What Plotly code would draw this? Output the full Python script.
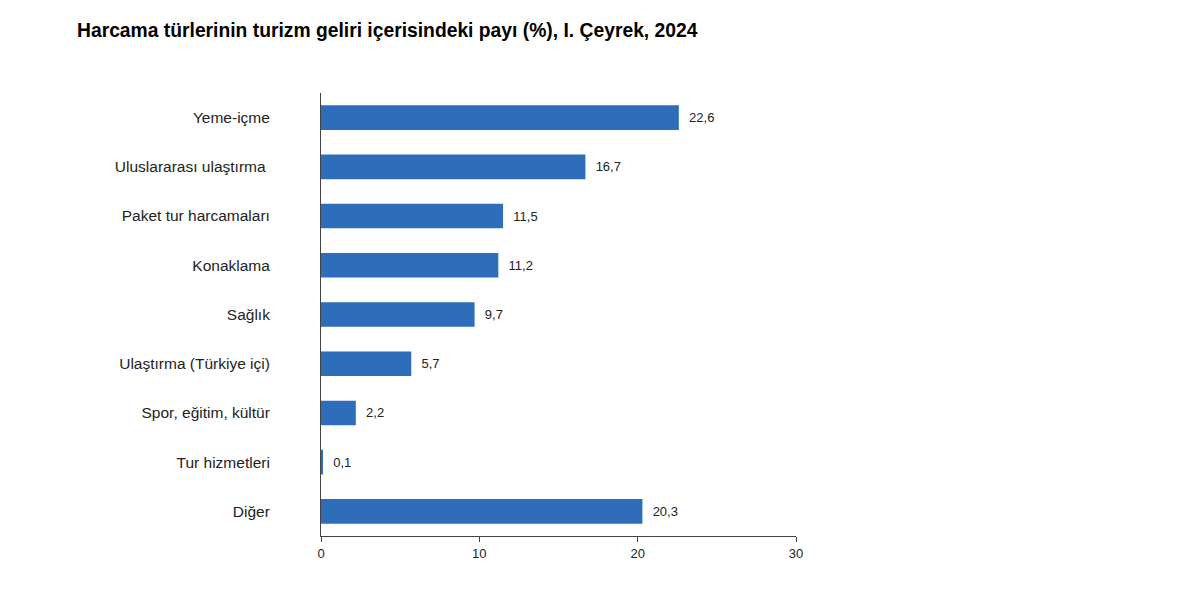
import plotly.graph_objects as go

categories = ["Yeme-içme", "Uluslararası ulaştırma ", "Paket tur harcamaları", "Konaklama",
              "Sağlık", "Ulaştırma (Türkiye içi)", "Spor, eğitim, kültür", "Tur hizmetleri", "Diğer"]
values = [22.6, 16.7, 11.5, 11.2, 9.7, 5.7, 2.2, 0.1, 20.3]
labels = [f"{v:.1f}".replace(".", ",") for v in values]
x_ticks = [0, 10, 20, 30]

fig = go.Figure(go.Bar(
    x=values, y=categories, orientation="h",
    marker=dict(color="#2e6db9", line=dict(width=0)),
    text=labels, texttemplate="\u00a0\u00a0%{text}", textposition="outside", cliponaxis=False,
    textfont=dict(family="Liberation Sans, Arial", size=13, color="#222"),
    width=0.5,
))

fig.update_layout(
    width=1200, height=616,
    paper_bgcolor="white", plot_bgcolor="white",
    margin=dict(l=321, r=404, t=93, b=80),
    showlegend=False,
    title=dict(text="<b>Harcama türlerinin turizm geliri içerisindeki payı (%), I. Çeyrek, 2024</b>",
               x=77/1200, xanchor="left", y=1-30/616, yanchor="middle",
               font=dict(family="Liberation Sans, Arial", size=19.3, color="black")),
    font=dict(family="Liberation Sans, Arial", color="#222"),
)
fig.update_xaxes(range=[0, 30], tickvals=x_ticks, showgrid=False, zeroline=False,
                 showline=True, linecolor="#444", linewidth=1,
                 ticks="outside", ticklen=5, tickcolor="#444",
                 tickfont=dict(size=13, color="#222"), fixedrange=True)
fig.update_yaxes(categoryorder="array", categoryarray=categories, autorange="reversed",
                 range=[8.5, -0.5], showgrid=False, zeroline=False,
                 showline=True, linecolor="#444", linewidth=1, ticks="",
                 ticklabelstandoff=47,
                 tickfont=dict(size=15.5, color="#222"))

fig.write_html("out.html", config={"displayModeBar": False},
               post_script="document.body.style.margin='0';")
